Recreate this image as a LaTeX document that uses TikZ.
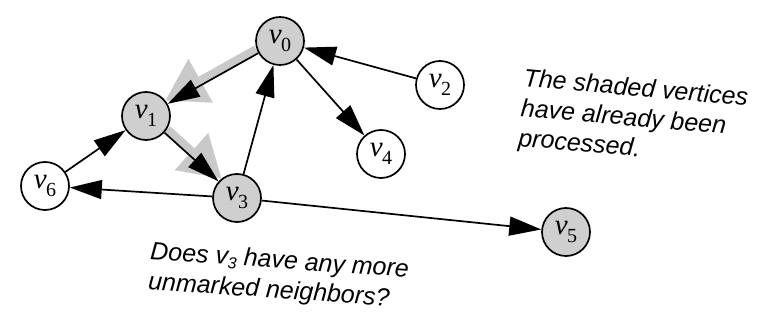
\documentclass[tikz,border=0pt]{standalone}
\usepackage{fontspec}
\setmainfont{Liberation Sans}
\newfontfamily\lblfont{Liberation Serif}
\usetikzlibrary{arrows.meta,backgrounds}
% vertex label: italic v with a lowered upright index
\newcommand{\vtx}[1]{{\lblfont\fontsize{29}{30}\selectfont\itshape v}\kern-0.5pt%
  \raisebox{-8pt}{\lblfont\fontsize{20}{20}\selectfont #1}}
\begin{document}
\begin{tikzpicture}[x=1pt,y=-1pt,
  vertex/.style={circle,draw,line width=1.7pt,minimum size=48pt,inner sep=0pt},
  done/.style={vertex,fill=gray!38},
  todo/.style={vertex,fill=white},
  edge/.style={line width=1.7pt,-{Triangle[length=32pt,width=19pt]}},
  trail/.style={draw=gray!42,line width=9pt,
    -{Triangle[length=40pt,width=50pt,line width=0.1pt,fill=gray!42]}},
  note/.style={align=left,inner sep=0pt,anchor=north west,
    font=\fontsize{25}{30}\selectfont\itshape}]
\useasboundingbox (0,0) rectangle (768,328);

% vertices
\node[done] (v0) at (280,41)  {\vtx{0}};
\node[done] (v1) at (146,116) {\vtx{1}};
\node[todo] (v2) at (440,85)  {\vtx{2}};
\node[done] (v3) at (237,198) {\vtx{3}};
\node[todo] (v4) at (381,154) {\vtx{4}};
\node[done] (v5) at (566,232) {\vtx{5}};
\node[todo] (v6) at (45,186)  {\vtx{6}};

% traversal trail behind the visited edges
\begin{pgfonlayer}{background}
\draw[trail,transform canvas={shift={(-2,-3.5)}}] (v0) -- (v1);
\draw[trail,transform canvas={shift={(2.7,-3)}}] (v1) -- (v3);
\end{pgfonlayer}

% directed edges
\draw[edge] (v0) -- (v1);
\draw[edge] (v1) -- (v3);
\draw[edge] (v2) -- (v0);
\draw[edge] (v0) -- (v4);
\draw[edge] (v3) -- (v0);
\draw[edge] (v6) -- (v1);
\draw[edge] (v3) -- (v6);
\draw[edge] (v3) -- (v5);

% annotations
\node[note,rotate=-5] (n1) at (524.5,68)
  {The shaded vertices\\have already been\\processed.};
\node[note,rotate=-4] (n2) at (151,241)
  {Does v\raisebox{-0.3ex}{\fontsize{16}{16}\selectfont 3} have any more\\unmarked neighbors?};
\end{tikzpicture}
\end{document}
